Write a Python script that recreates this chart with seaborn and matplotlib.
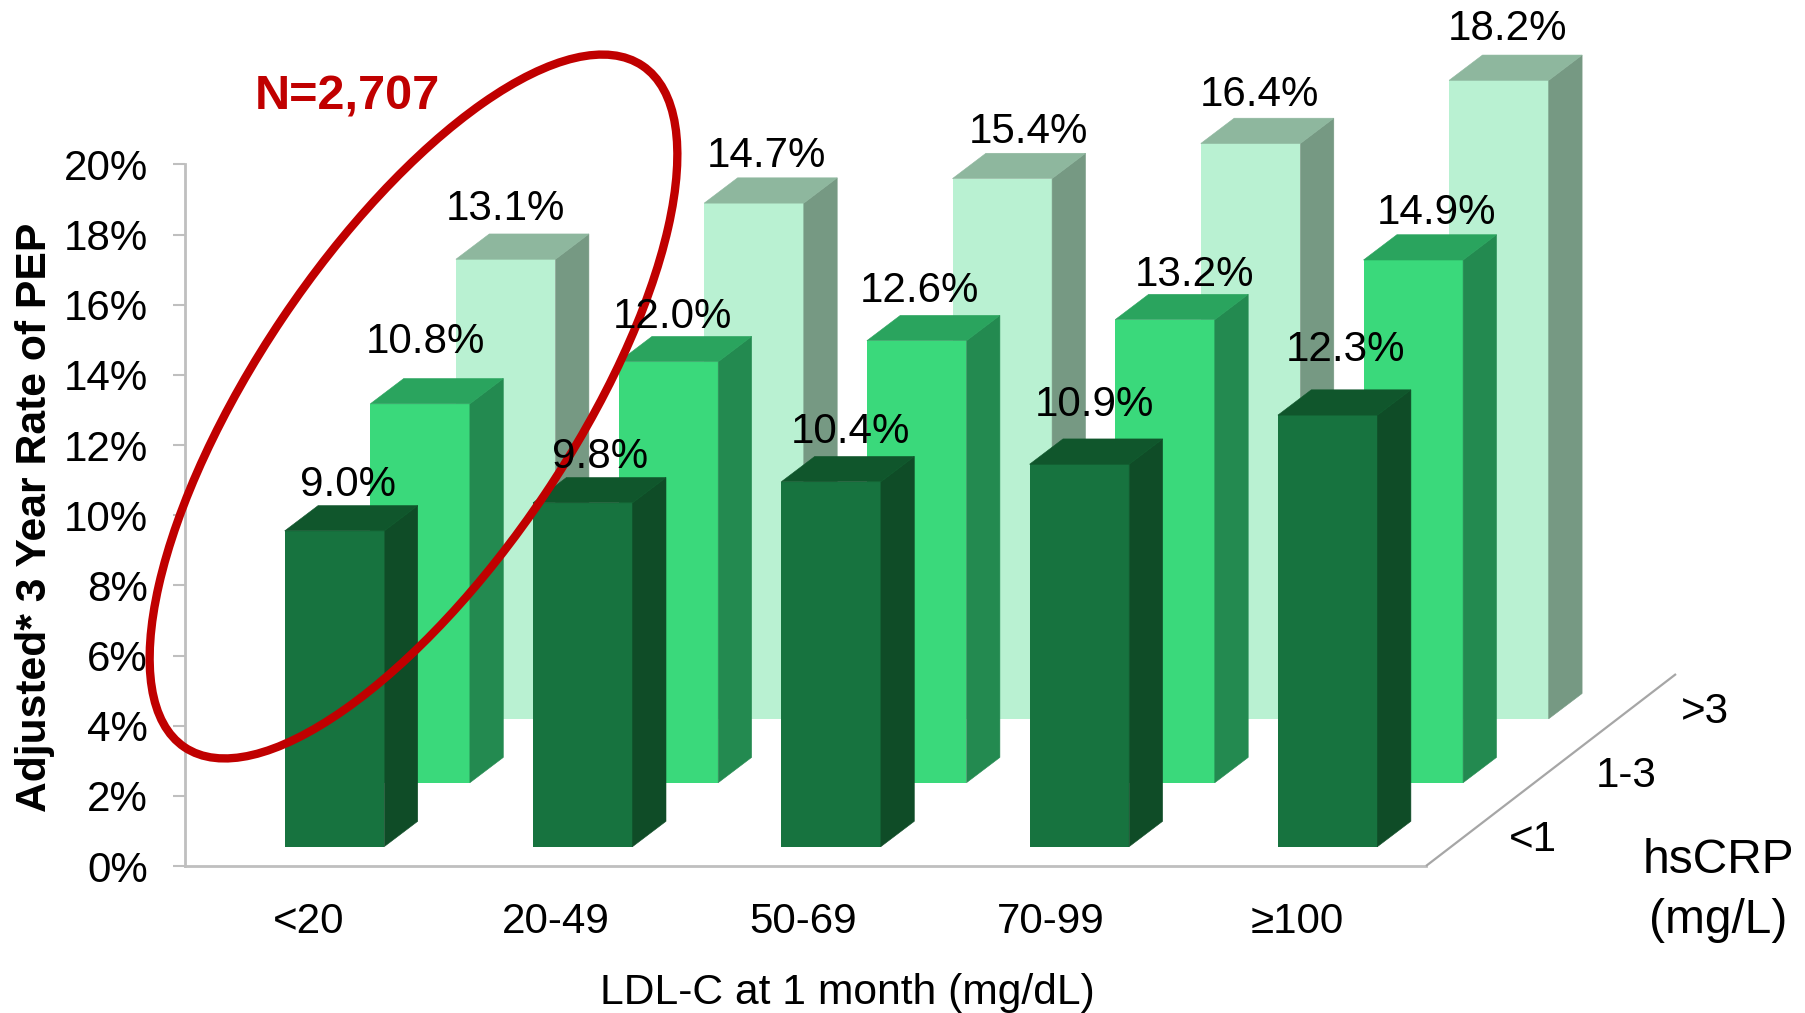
import matplotlib
matplotlib.use("Agg")
import matplotlib.pyplot as plt
from matplotlib.patches import Ellipse
import seaborn as sns

# ---- data -------------------------------------------------------------
ldl_categories = ["<20", "20-49", "50-69", "70-99", "≥100"]
crp_groups = ["<1", "1-3", ">3"]
values_low = [9.0, 9.8, 10.4, 10.9, 12.3]
values_mid = [10.8, 12.0, 12.6, 13.2, 14.9]
values_high = [13.1, 14.7, 15.4, 16.4, 18.2]
y_ticks = [0, 2, 4, 6, 8, 10, 12, 14, 16, 18, 20]

# ---- label placement (px offsets from the bar-top centre) --------------
nudge_low = [(13, 46), (17, 46), (19, 50), (15, 59), (18, 65)]
nudge_mid = [(5, 62), (4, 45), (3, 50), (29, 45), (23, 47)]
nudge_high = [(0, 50), (12, 47), (26, 47), (9, 48), (9, 51)]

# ---- styles ------------------------------------------------------------
W, H = 1806, 1013
PX_PER_UNIT = 35.08
CAT_STEP = 248.3
BAR_W = 99.6
DEPTH_X, DEPTH_Y = 33.4, 25.3
STEP_X, STEP_Y = 85.6, 63.9
FRONT_LEFT, FRONT_BASE = 284.5 + 50 - 0.5 * CAT_STEP, 846.6
palette = {
    "low": ("#17733F", "#0F4C27", "#10562C"),
    "mid": ("#3AD97B", "#238A50", "#2AA45E"),
    "high": ("#B9F1D2", "#769983", "#8EB79E"),
}
AXIS_COLOR = "#BFBFBF"
FS = 30.3

sns.set_theme(style="white")
plt.rcParams["font.family"] = ["Liberation Sans", "DejaVu Sans"]
plt.rcParams["text.color"] = "black"

fig = plt.figure(figsize=(W / 100, H / 100), dpi=100, facecolor="white")

# ---- wall axes: value axis and category axis ---------------------------
wall = fig.add_axes([185.4 / W, (H - 866) / H, 1240.6 / W, 20 * PX_PER_UNIT / H])
wall.set_xlim(-0.5, 4.52)
wall.set_ylim(0, 20)
wall.set_yticks(y_ticks, [f"{t}%" for t in y_ticks])
wall.set_xticks(range(5), ldl_categories)
wall.tick_params(axis="y", left=True, length=9, width=1.5, color=AXIS_COLOR,
                 pad=18, labelsize=FS, labelcolor="black")
wall.tick_params(axis="x", bottom=False, pad=20, labelsize=FS, labelcolor="black")
for side in ("top", "right"):
    wall.spines[side].set_visible(False)
for side in ("left", "bottom"):
    wall.spines[side].set_color(AXIS_COLOR)
    wall.spines[side].set_linewidth(2)
wall.set_facecolor("none")
wall.grid(False)

# ---- bars: one transparent axes per depth row, back to front -----------
series = [("high", values_high, nudge_high, 2),
          ("mid", values_mid, nudge_mid, 1),
          ("low", values_low, nudge_low, 0)]

bar_axes = {}
for name, vals, nudges, depth in series:
    left = FRONT_LEFT + depth * STEP_X
    base = FRONT_BASE - depth * STEP_Y
    ax = fig.add_axes([left / W, (H - base) / H, 5 * CAT_STEP / W, 20 * PX_PER_UNIT / H])
    face, side_c, top_c = palette[name]
    sns.barplot(x=ldl_categories, y=vals, ax=ax, color=face, saturation=1,
                width=BAR_W / CAT_STEP, order=ldl_categories, linewidth=0)
    ax.set_xlim(-0.5, 4.5)
    ax.set_ylim(0, 20)
    ax.axis("off")
    ax.patch.set_alpha(0)
    dx, dy = DEPTH_X / CAT_STEP, DEPTH_Y / PX_PER_UNIT
    for bar in list(ax.patches):
        x0, x1, v = bar.get_x(), bar.get_x() + bar.get_width(), bar.get_height()
        ax.fill([x1, x1 + dx, x1 + dx, x1], [0, dy, v + dy, v],
                facecolor=side_c, edgecolor=side_c, lw=0.4, clip_on=False)
        ax.fill([x0, x1, x1 + dx, x0 + dx], [v, v, v + dy, v + dy],
                facecolor=top_c, edgecolor=top_c, lw=0.4, clip_on=False)
        bar.set_clip_on(False)
    bar_axes[name] = ax

# ---- overlay: value labels, depth axis, annotation ---------------------
ov = fig.add_axes([0, 0, 1, 1])
ov.set_xlim(0, W)
ov.set_ylim(H, 0)
ov.axis("off")
ov.patch.set_alpha(0)

for name, vals, nudges, depth in series:
    ax = bar_axes[name]
    for i, v in enumerate(vals):
        ov.annotate(f"{v:.1f}%", xy=(i, v), xycoords=ax.transData,
                    xytext=nudges[i], textcoords="offset pixels",
                    ha="center", va="center", fontsize=FS, color="black",
                    annotation_clip=False)

ov.plot([1426, 1676], [866, 674], color="#A6A6A6", lw=1.6, solid_capstyle="butt")
for lab, (x, y) in zip(crp_groups, [(1533, 840), (1626, 776), (1705, 712)]):
    ov.text(x, y, lab, ha="center", va="center", fontsize=FS)
ov.text(1718, 860, "hsCRP", ha="center", va="center", fontsize=34.5)
ov.text(1718, 920, "(mg/L)", ha="center", va="center", fontsize=34.5)
ov.text(847, 993, "LDL-C at 1 month (mg/dL)", ha="center", va="center", fontsize=30.7)
ov.text(35, 517, "Adjusted* 3 Year Rate of PEP", rotation=90, ha="center", va="center",
        fontsize=30.7, fontweight="bold")
ov.text(347, 97, "N=2,707", ha="center", va="center", fontsize=35, fontweight="bold",
        color="#C00000")
ov.add_patch(Ellipse((413.5, 406.5), 821, 316, angle=-56.1, fill=False,
                     edgecolor="#C00000", lw=6))

fig.savefig("out.png", dpi=100, facecolor="white")
